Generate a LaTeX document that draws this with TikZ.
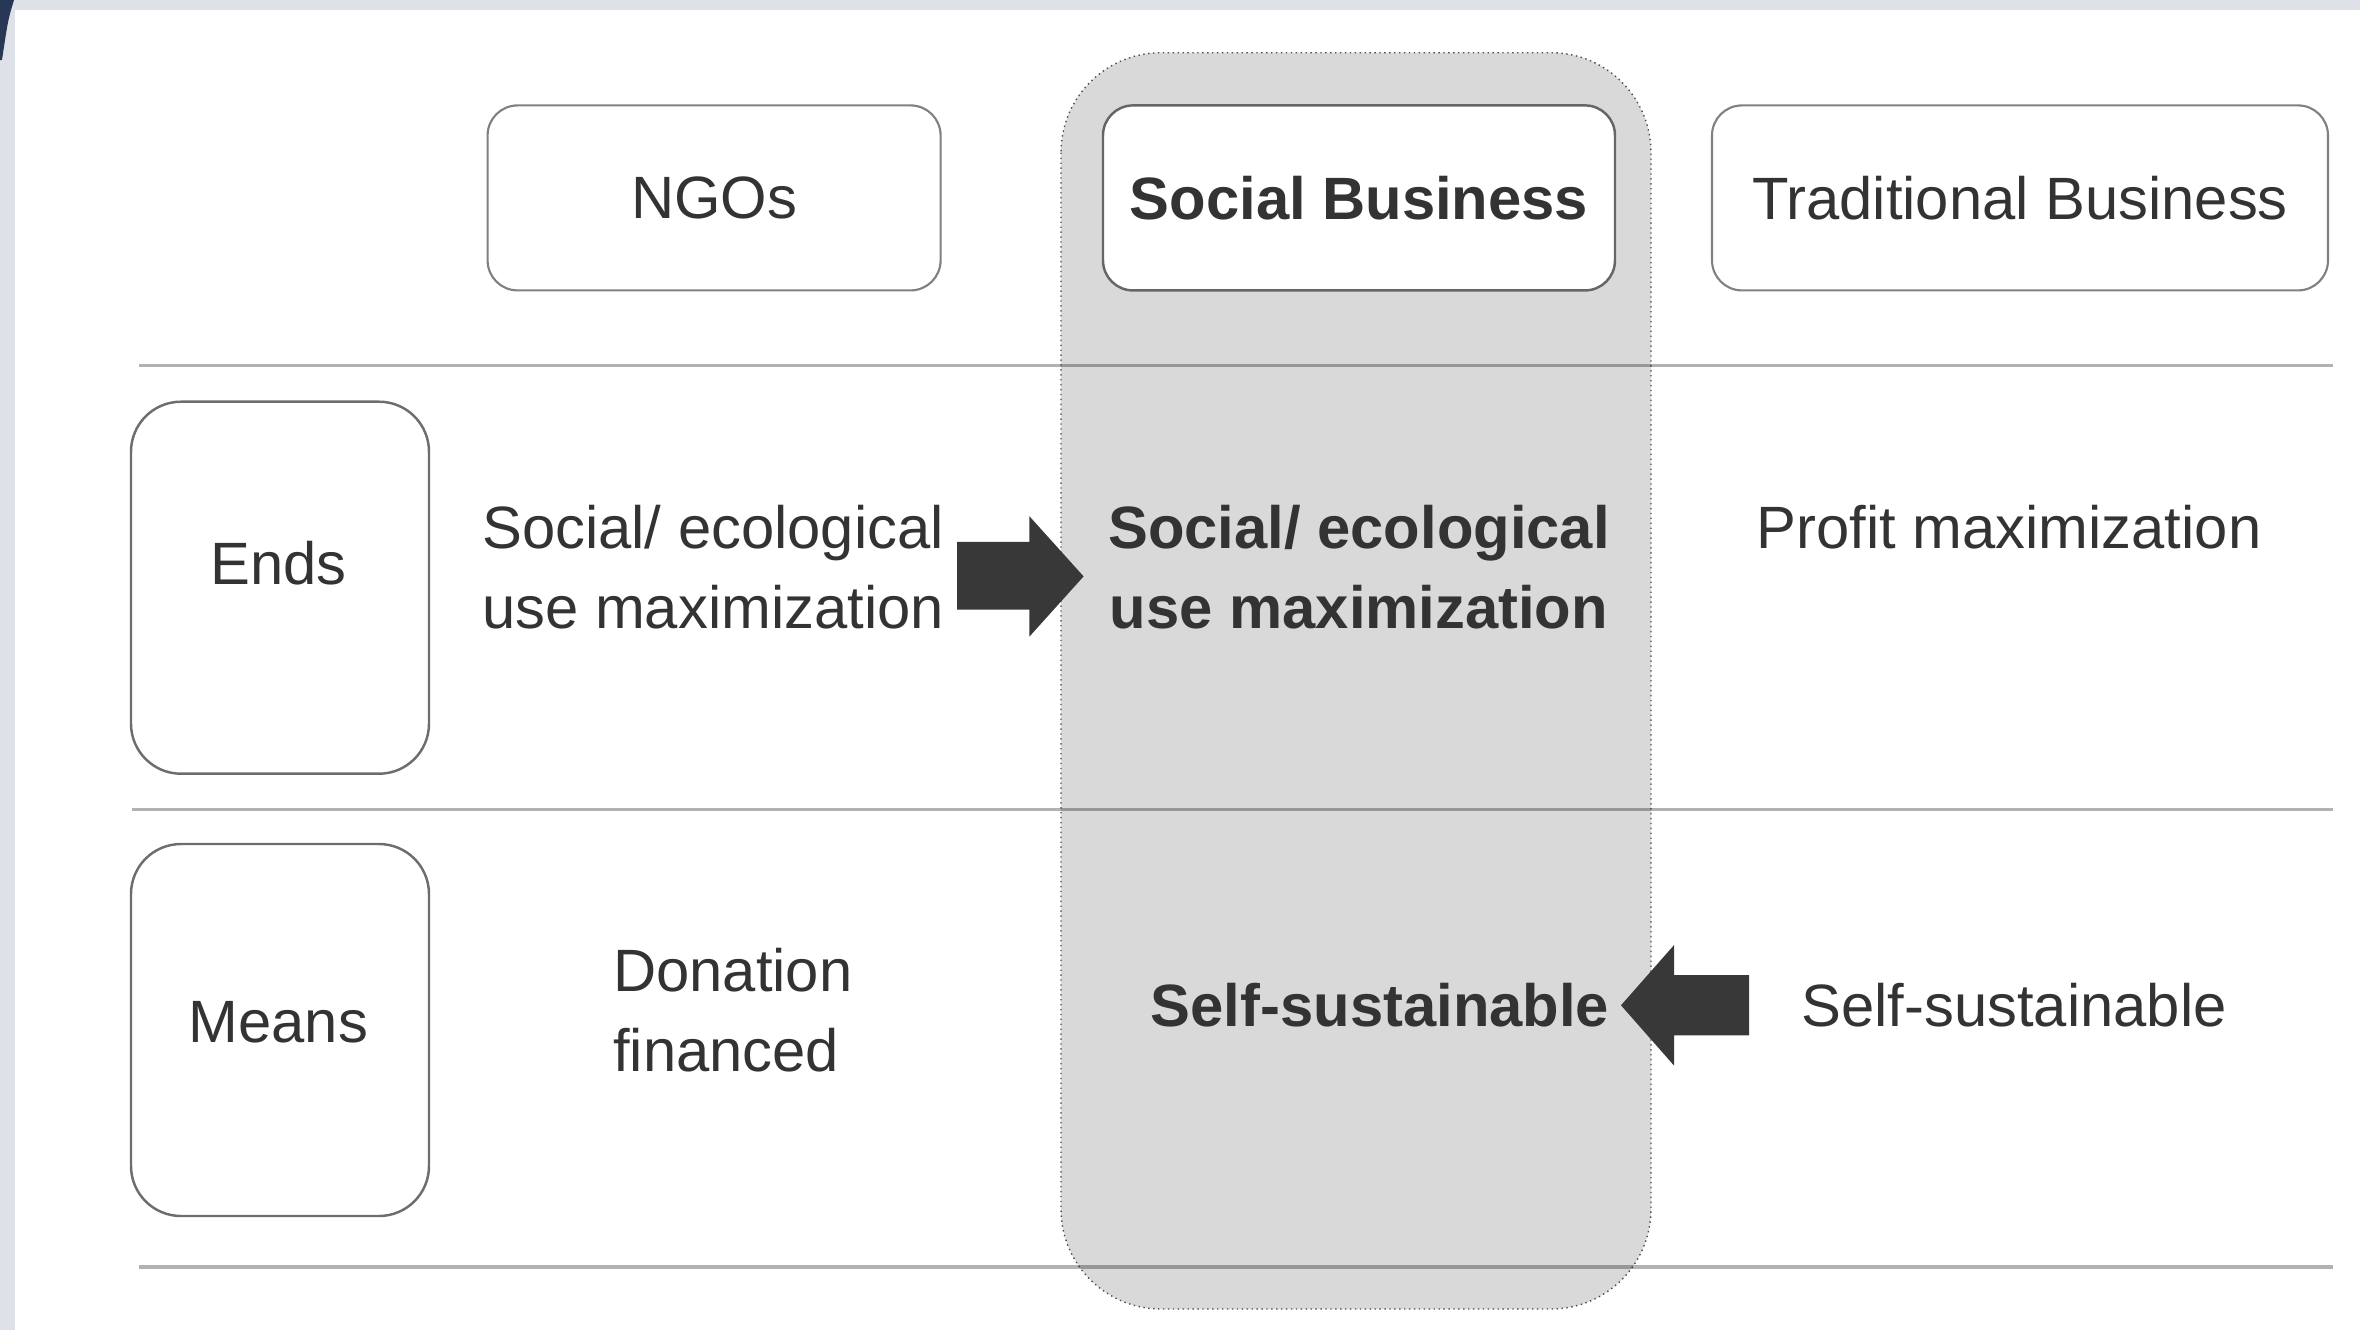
\documentclass[tikz,border=0pt]{standalone}
\usepackage{fontspec}
\setmainfont{Liberation Sans}
\usetikzlibrary{calc}

\definecolor{colfill}{RGB}{217,217,217}
\definecolor{arrowfill}{RGB}{56,56,56}
\definecolor{boxline}{RGB}{128,128,128}
\definecolor{bandgray}{RGB}{222,226,232}
\definecolor{cornerblue}{RGB}{40,55,85}

\begin{document}
\begin{tikzpicture}[
  every node/.style={font=\fontsize{17}{22.7}\selectfont, text=black!80},
  headbox/.style={draw=boxline, line width=0.6pt, rounded corners=0.3cm, fill=white, minimum height=1.85cm},
  rowbox/.style={draw=boxline!85!black, line width=0.7pt, rounded corners=0.5cm, minimum width=2.98cm, minimum height=3.72cm},
  rowline/.style={draw=black, draw opacity=0.3, line width=0.9pt},
  cell/.style={inner sep=0pt},
  blockarrow/.style={fill=arrowfill}
]
  \useasboundingbox (0,0) rectangle (23.6,-13.3);
  % bordas da captura
  \fill[bandgray] (0,0) rectangle (23.6,-0.1);
  \fill[bandgray] (0,0) rectangle (0.15,-13.3);
  \fill[cornerblue] (0,0) -- (0.14,0) .. controls (0.08,-0.2) .. (0.02,-0.6) -- (0,-0.6) -- cycle;
  % coluna em destaque
  \draw[draw=black!70, densely dotted, fill=colfill, rounded corners=1cm]
    (10.61,-0.527) rectangle (16.51,-13.09);
  % linhas da tabela
  \draw[rowline] (1.385,-3.657) -- (23.33,-3.657);
  \draw[rowline] (1.324,-8.097) -- (23.33,-8.097);
  \draw[rowline] (1.385,-12.67) -- (23.33,-12.67);
  % cabecalhos
  \node[headbox, minimum width=4.53cm] (ngo) at (7.141,-1.979) {NGOs};
  \node[headbox, draw=boxline!80!black, line width=0.7pt, minimum width=5.12cm] (sb) at (13.59,-1.979) {\textbf{Social Business}};
  \node[headbox, minimum width=6.16cm] (tb) at (20.20,-1.979) {Traditional Business};
  % linhas: fins e meios
  \node[rowbox] (ends) at (2.80,-5.877) {};
  \node (endstxt) at (2.784,-5.629) {Ends};
  \node[rowbox] (means) at (2.80,-10.30) {};
  \node (meanstxt) at (2.784,-10.22) {Means};
  % celulas
  \node[cell, anchor=west, align=left] (ngoends) at (4.816,-5.674) {Social/ ecological\\use maximization};
  \node[cell, align=center] (sbends) at (13.59,-5.674) {\textbf{Social/ ecological}\\\textbf{use maximization}};
  \node[cell] (tbends) at (20.09,-5.27) {Profit maximization};
  \node[cell, anchor=west, align=left] (ngomeans) at (6.125,-10.10) {Donation\\financed};
  \node[cell] (sbmeans) at (13.80,-10.05) {\textbf{Self-sustainable}};
  \node[cell] (tbmeans) at (20.14,-10.05) {Self-sustainable};
  % setas
  \fill[blockarrow] (9.572,-5.418) -- (10.294,-5.418) -- (10.294,-5.162) -- (10.836,-5.764)
    -- (10.294,-6.366) -- (10.294,-6.095) -- (9.572,-6.095) -- cycle;
  \fill[blockarrow] (17.49,-9.752) -- (16.74,-9.752) -- (16.74,-9.451) -- (16.21,-10.053)
    -- (16.74,-10.655) -- (16.74,-10.354) -- (17.49,-10.354) -- cycle;
\end{tikzpicture}
\end{document}
